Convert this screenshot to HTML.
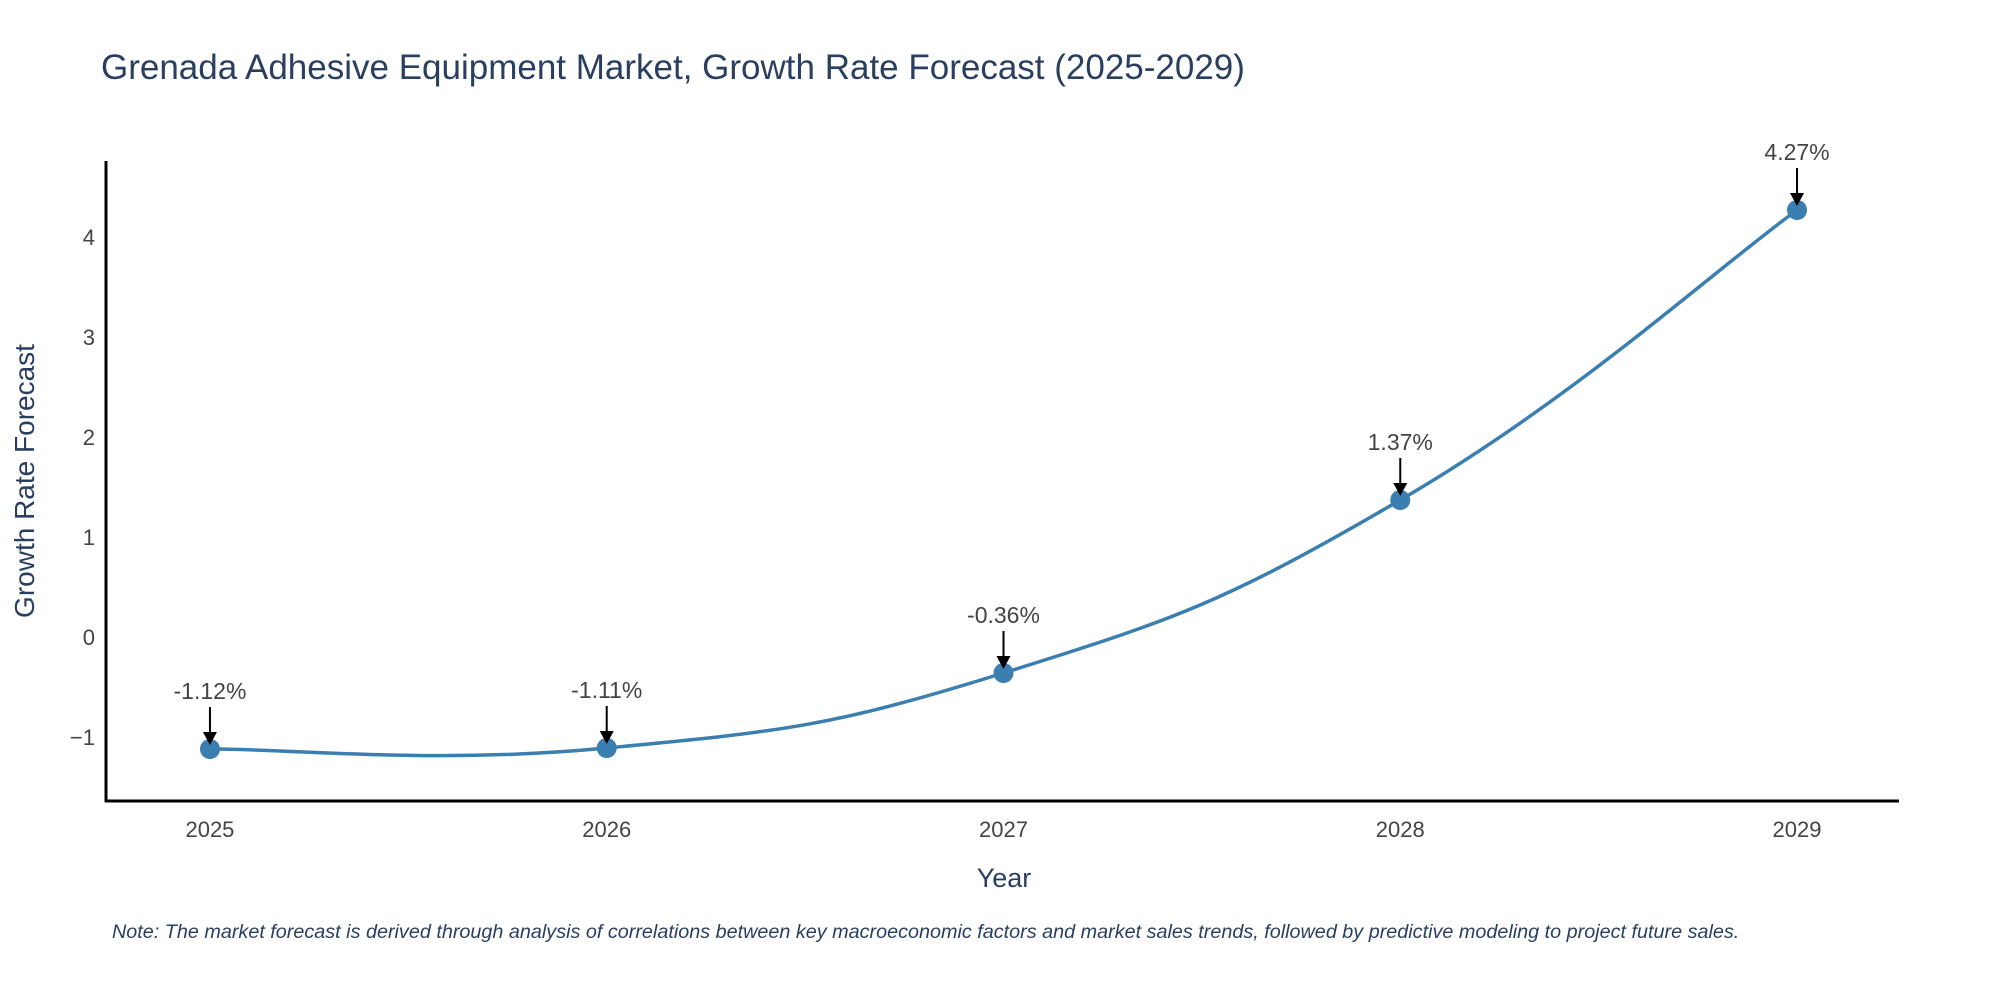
<!DOCTYPE html>
<html><head><meta charset="utf-8">
<style>
html,body{margin:0;padding:0;background:#fff;}
svg{display:block;font-family:"Liberation Sans",sans-serif;}
</style></head>
<body>
<svg id="chart" width="2000" height="1000" viewBox="0 0 2000 1000" xmlns="http://www.w3.org/2000/svg">
<text x="101" y="79" font-size="35" fill="#2a3f5f">Grenada Adhesive Equipment Market, Growth Rate Forecast (2025-2029)</text>
<path id="line" fill="none" stroke="#3a7fb0" stroke-width="3.5"/>
<g id="marks"></g>
<line x1="106" y1="161" x2="106" y2="802" stroke="#000" stroke-width="3"/>
<line x1="105" y1="801" x2="1899" y2="801" stroke="#000" stroke-width="3"/>
<g id="xticks"></g><g id="yticks"></g>
<text x="1004" y="887" font-size="27" fill="#2a3f5f" text-anchor="middle">Year</text>
<text transform="translate(34,481) rotate(-90)" font-size="28" fill="#2a3f5f" text-anchor="middle">Growth Rate Forecast</text>
<text x="112" y="938" font-size="19.8" font-style="italic" fill="#2a3f5f">Note: The market forecast is derived through analysis of correlations between key macroeconomic factors and market sales trends, followed by predictive modeling to project future sales.</text>
</svg>
<script>
const years = [2025, 2026, 2027, 2028, 2029];
const growth = [-1.12, -1.11, -0.36, 1.37, 4.27];
const labels = ["-1.12%", "-1.11%", "-0.36%", "1.37%", "4.27%"];
const yTicks = [-1, 0, 1, 2, 3, 4];
const yTickLabels = ["\u22121", "0", "1", "2", "3", "4"];

const NS = "http://www.w3.org/2000/svg";
const X0 = 106, X1 = 1899, XMIN = 2024.738, XMAX = 2029.257;
const Y0 = 801, Y1 = 161, YMIN = -1.64, YMAX = 4.76;
const xs = v => X0 + (v - XMIN) / (XMAX - XMIN) * (X1 - X0);
const ys = v => Y0 - (v - YMIN) / (YMAX - YMIN) * (Y0 - Y1);
function mk(tag, attrs, parent){const e=document.createElementNS(NS,tag);for(const k in attrs)e.setAttribute(k,attrs[k]);parent.appendChild(e);return e;}

const xt = document.getElementById('xticks');
years.forEach((y,i)=>{
  const t = mk('text',{x:xs(y),y:837,'font-size':22,fill:'#444','text-anchor':'middle'},xt);
  
  
  t.textContent = y;
});
const yt = document.getElementById('yticks');
yTicks.forEach((v,i)=>{
  const t = mk('text',{x:95,y:ys(v)+8,'font-size':22,fill:'#444','text-anchor':'end'},yt);
  
  
  t.textContent = yTickLabels[i];
});

const pts = years.map((y,i)=>[xs(y), ys(growth[i])]);
let d = `M${pts[0][0]},${pts[0][1]}`;
const s = 0.22;
for(let i=0;i<pts.length-1;i++){
  const p0 = pts[Math.max(0,i-1)], p1 = pts[i], p2 = pts[i+1], p3 = pts[Math.min(pts.length-1,i+2)];
  const c1 = [p1[0]+(p2[0]-p0[0])*s, p1[1]+(p2[1]-p0[1])*s];
  const c2 = [p2[0]-(p3[0]-p1[0])*s, p2[1]-(p3[1]-p1[1])*s];
  d += ` C${c1[0]},${c1[1]} ${c2[0]},${c2[1]} ${p2[0]},${p2[1]}`;
}
document.getElementById('line').setAttribute('d', d);

const mg = document.getElementById('marks');
pts.forEach((p,i)=>{
  const c = mk('circle',{cx:p[0],cy:p[1],r:10,fill:'#3a7fb0'},mg);
  
  
  const l = mk('line',{x1:p[0],y1:p[1]-42,x2:p[0],y2:p[1]-16,stroke:'#000','stroke-width':2},mg);
  
  
  const h = mk('polygon',{points:`${p[0]-7},${p[1]-17} ${p[0]+7},${p[1]-17} ${p[0]},${p[1]-4}`,fill:'#000'},mg);
  
  
  const t = mk('text',{x:p[0],y:p[1]-50,'font-size':23,fill:'#444','text-anchor':'middle'},mg);
  
  
  t.textContent = labels[i];
});
</script>
</body></html>
